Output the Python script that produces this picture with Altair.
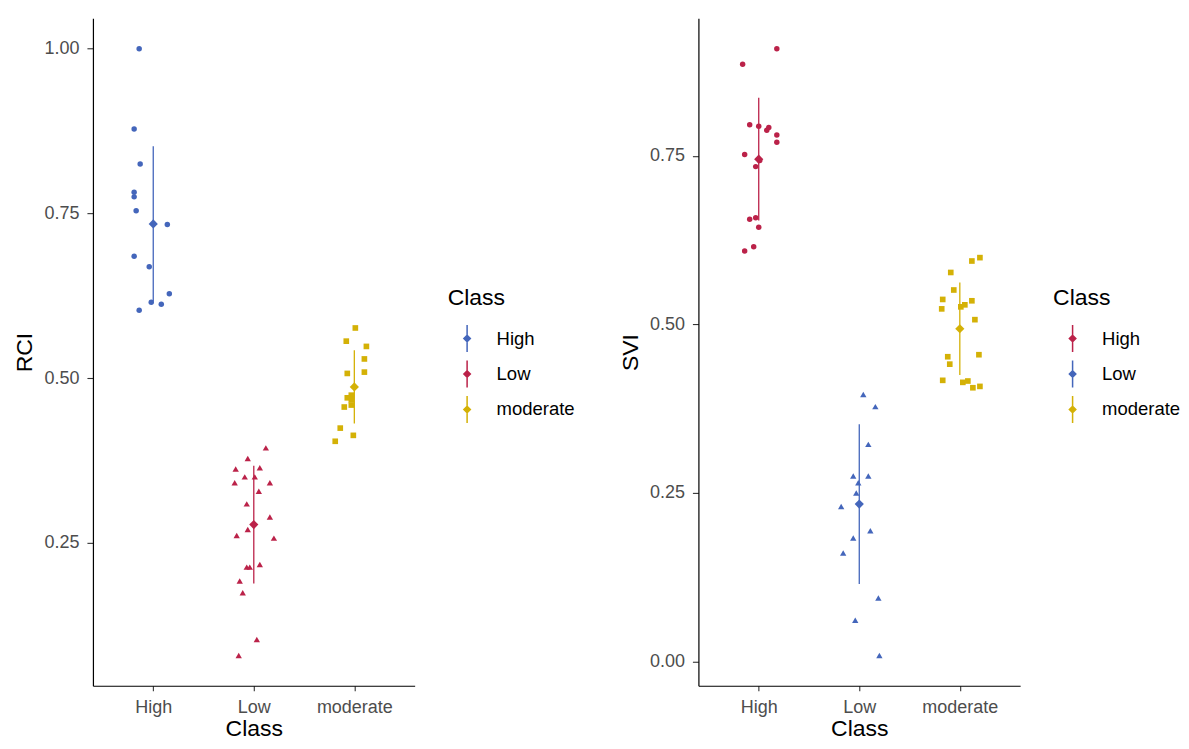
import altair as alt
import pandas as pd

classes = ["High", "Low", "moderate"]

# ---------------- Left panel: RCI ----------------
rci_high = [1.00, 0.878, 0.825, 0.782, 0.775, 0.754, 0.733, 0.685, 0.669, 0.628, 0.615, 0.612, 0.603]
rci_high_jit = [-0.14, -0.19, -0.13, -0.19, -0.19, -0.17, 0.14, -0.19, -0.04, 0.16, -0.02, 0.08, -0.14]
rci_low = [0.394, 0.378, 0.362, 0.364, 0.350, 0.350, 0.341, 0.341, 0.328, 0.309, 0.289, 0.270,
           0.261, 0.257, 0.213, 0.213, 0.217, 0.192, 0.174, 0.103, 0.079]
rci_low_jit = [0.12, -0.06, -0.18, 0.06, -0.09, 0.01, -0.19, 0.16, 0.05, -0.07, 0.16, -0.06,
               -0.17, 0.20, -0.07, -0.04, 0.06, -0.14, -0.11, 0.03, -0.15]
rci_mod = [0.576, 0.556, 0.548, 0.529, 0.507, 0.509, 0.474, 0.470, 0.467, 0.459, 0.456, 0.424, 0.413, 0.404]
rci_mod_jit = [0.01, -0.08, 0.12, 0.10, -0.07, 0.10, -0.03, -0.07, -0.03, -0.03, -0.10, -0.14, -0.01, -0.19]
rci_mean = [0.734, 0.2775, 0.4865]
rci_sd = [0.118, 0.0895, 0.0555]
rci_colors = ["#4466BB", "#BB2249", "#D4B106"]
rci_ticks = [0.25, 0.50, 0.75, 1.00]

# ---------------- Right panel: SVI ----------------
svi_high = [0.909, 0.886, 0.796, 0.794, 0.788, 0.792, 0.781, 0.770, 0.752, 0.743, 0.734, 0.656,
            0.658, 0.644, 0.609, 0.615]
svi_high_jit = [0.18, -0.16, -0.09, 0.00, 0.08, 0.10, 0.18, 0.18, -0.14, 0.01, -0.03, -0.09,
                -0.03, 0.00, -0.14, -0.05]
svi_low = [0.396, 0.378, 0.322, 0.275, 0.275, 0.265, 0.250, 0.230, 0.194, 0.183, 0.161, 0.094, 0.061, 0.009]
svi_low_jit = [0.04, 0.16, 0.09, -0.06, 0.09, -0.01, -0.03, -0.18, 0.11, -0.06, -0.16, 0.19, -0.04, 0.20]
svi_mod = [0.599, 0.594, 0.577, 0.551, 0.537, 0.535, 0.523, 0.526, 0.529, 0.507, 0.452, 0.455,
           0.441, 0.417, 0.414, 0.416, 0.406, 0.408]
svi_mod_jit = [0.20, 0.12, -0.09, -0.06, -0.17, 0.12, -0.18, 0.01, 0.05, 0.15, -0.12, 0.19,
               -0.10, -0.17, 0.03, 0.08, 0.13, 0.20]
svi_mean = [0.745, 0.2335, 0.4935]
svi_sd = [0.091, 0.1185, 0.0685]
svi_colors = ["#BB2249", "#4466BB", "#D4B106"]
svi_ticks = [0.00, 0.25, 0.50, 0.75]

point_shapes = ["circle", "triangle-up", "square"]
point_sizes = [30, 40, 32]

LEGEND_SYMBOL = "M0,-1L0,1M-0.24,0L0,-0.24L0.24,0L0,0.24Z"
FONT = "Liberation Sans"

label_expr = " : ".join(
    [f"datum.value == {i + 1} ? '{c}'" for i, c in enumerate(classes[:-1])]
) + f" : '{classes[-1]}'"


def panel(groups, jitters, means, sds, colors, ytitle, ticks, lx, ly):
    rows = []
    for i, (vals, jits) in enumerate(zip(groups, jitters)):
        for v, j in zip(vals, jits):
            rows.append({"Class": classes[i], "x": i + 1 + j, "value": v})
    pts = pd.DataFrame(rows)
    summ = pd.DataFrame({
        "Class": classes,
        "x": [1, 2, 3],
        "mean": means,
        "lo": [m - s for m, s in zip(means, sds)],
        "hi": [m + s for m, s in zip(means, sds)],
    })
    allv = [v for g in groups for v in g]
    vmin, vmax = min(allv), max(allv)
    pad = (vmax - vmin) * 0.05
    yscale = alt.Scale(domain=[vmin - pad, vmax + pad], nice=False, zero=False)
    xenc = alt.X("x:Q", scale=alt.Scale(domain=[0.4, 3.6], nice=False, zero=False),
                 axis=alt.Axis(values=[1, 2, 3], labelExpr=label_expr, title="Class", grid=False))
    color = alt.Color("Class:N", scale=alt.Scale(domain=classes, range=colors),
                      legend=alt.Legend(orient="none", legendX=lx, legendY=ly,
                                        symbolType=LEGEND_SYMBOL, symbolSize=729,
                                        symbolStrokeWidth=1.5, title="Class"))
    yaxis = alt.Axis(values=ticks, format=".2f", grid=False, title=ytitle)

    layers = []
    for cls, shp, sz in zip(classes, point_shapes, point_sizes):
        layers.append(
            alt.Chart(pts).transform_filter(alt.datum.Class == cls).mark_point(
                filled=True, opacity=1, shape=shp, size=sz
            ).encode(
                x=xenc,
                y=alt.Y("value:Q", scale=yscale, axis=yaxis),
                color=color,
            )
        )
    bars = alt.Chart(summ).mark_rule(strokeWidth=1.3).encode(
        x=xenc,
        y=alt.Y("lo:Q", scale=yscale, axis=yaxis),
        y2="hi:Q",
        color=color,
    )
    mean_pt = alt.Chart(summ).mark_point(filled=True, opacity=1, shape="diamond", size=85).encode(
        x=xenc,
        y=alt.Y("mean:Q", scale=yscale, axis=yaxis),
        color=color,
    )
    return alt.layer(*layers, bars, mean_pt).properties(width=322, height=668)


left = panel([rci_high, rci_low, rci_mod], [rci_high_jit, rci_low_jit, rci_mod_jit],
             rci_mean, rci_sd, rci_colors, "RCI", rci_ticks, 355, 269)
right = panel([svi_high, svi_low, svi_mod], [svi_high_jit, svi_low_jit, svi_mod_jit],
              svi_mean, svi_sd, svi_colors, "SVI", svi_ticks, 355, 269)

chart = alt.hconcat(left, right, spacing=43).resolve_scale(
    color="independent", y="independent"
).properties(
    padding={"left": 5, "top": 10, "right": 0, "bottom": 0}
).configure_view(stroke=None).configure_axis(
    domainColor="#000000", domainWidth=1.2, tickColor="#333333", tickWidth=1.1,
    labelColor="#4D4D4D", labelFontSize=18, labelFont=FONT,
    titleFont=FONT, titleFontSize=23, titleFontWeight="normal", titleColor="#000000",
).configure_axisY(titlePadding=7, labelPadding=8, tickSize=6).configure_axisX(
    titlePadding=1, labelPadding=8, tickSize=5
).configure_legend(
    titleFont=FONT, titleFontSize=23, titleFontWeight="normal", titleColor="#000000",
    labelFont=FONT, labelFontSize=18.5, labelColor="#000000", rowPadding=2.5,
    titlePadding=14, labelOffset=15, symbolOffset=5,
)

chart.save("out.html", embed_options={"renderer": "svg", "actions": False})
